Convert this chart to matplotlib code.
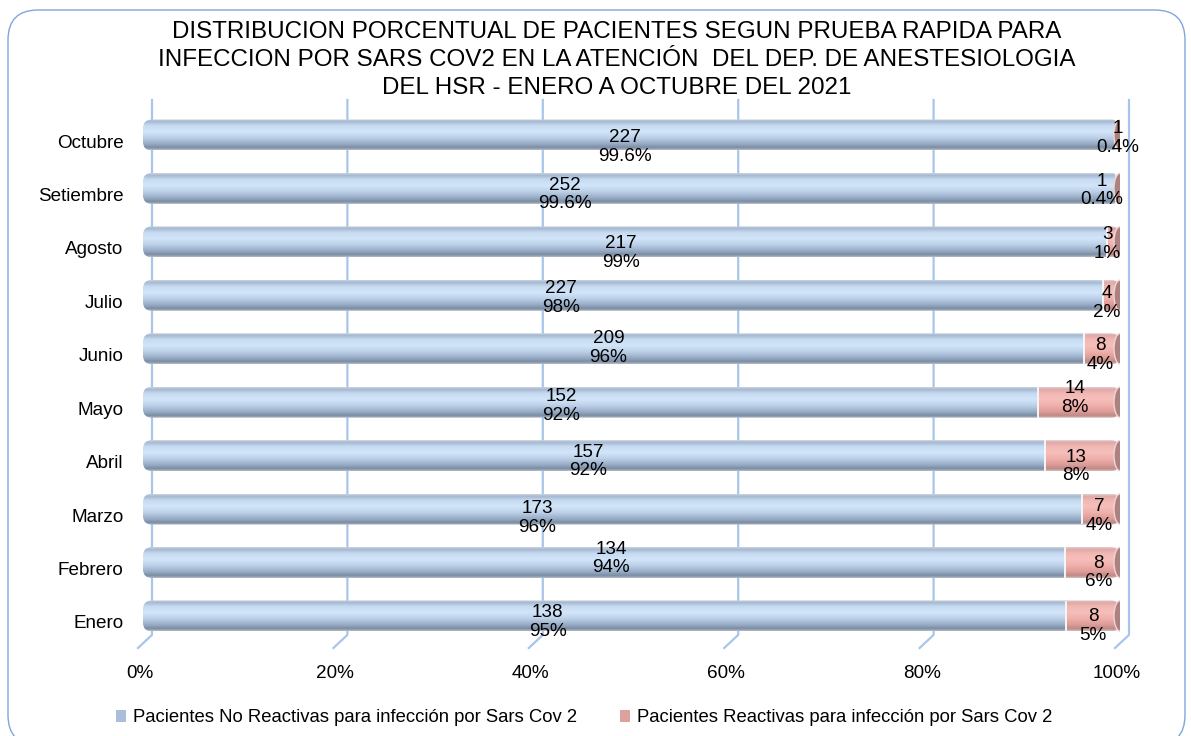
import numpy as np
import matplotlib
matplotlib.use("Agg")
import matplotlib.pyplot as plt
from matplotlib.colors import to_rgb
from matplotlib.patches import Ellipse, FancyBboxPatch, Patch
from matplotlib.transforms import ScaledTranslation

plt.rcParams["font.family"] = ["Liberation Sans", "DejaVu Sans"]

# data, bottom row first (Enero) up to Octubre
months = ["Enero", "Febrero", "Marzo", "Abril", "Mayo", "Junio",
          "Julio", "Agosto", "Setiembre", "Octubre"]
no_reactivas = [138, 134, 173, 157, 152, 209, 227, 217, 252, 227]
reactivas = [8, 8, 7, 13, 14, 8, 4, 3, 1, 1]
pct_no_reactivas = ["95%", "94%", "96%", "92%", "92%", "96%", "98%", "99%", "99.6%", "99.6%"]
pct_reactivas = ["5%", "6%", "4%", "8%", "8%", "4%", "2%", "1%", "0.4%", "0.4%"]
x_ticks = [0, 0.2, 0.4, 0.6, 0.8, 1.0]
x_tick_labels = ["0%", "20%", "40%", "60%", "80%", "100%"]

TITLE = ("DISTRIBUCION PORCENTUAL DE PACIENTES SEGUN PRUEBA RAPIDA PARA\n"
         "INFECCION POR SARS COV2 EN LA ATENCIÓN  DEL DEP. DE ANESTESIOLOGIA\n"
         "DEL HSR - ENERO A OCTUBRE DEL 2021")
LEGEND_LABELS = ["Pacientes No Reactivas para infección por Sars Cov 2",
                 "Pacientes Reactivas para infección por Sars Cov 2"]

# label nudges in pixels (dx, dy downwards), same order as months
blue_nudge = [(-57, 0), (7, -10), (-75, 3), (-6, 0), (-29, -2),
              (-5, -7), (-62, -3), (-4, 5), (-65, 0), (-4, 6)]
pink_nudge = [(0, 4), (6, 4), (-2, 1), (-7, 5), (-4, -10),
              (-2, 0), (-5, 2), (-6, -4), (-16, -4), (0, -3)]

BLUE_STOPS = [(0.0, "#c9d3df"), (0.07, "#a5b8d0"), (0.2, "#c6daf1"), (0.4, "#d2e5f9"),
              (0.6, "#bcd0e8"), (0.8, "#98acc6"), (0.93, "#7a8ca3"), (1.0, "#b3bcc6")]
PINK_STOPS = [(0.0, "#e6cccb"), (0.07, "#dcaaa8"), (0.2, "#f2b7b3"), (0.4, "#f6bfbb"),
              (0.6, "#f0afab"), (0.8, "#dc9c98"), (0.93, "#c08884"), (1.0, "#d4bab9")]

W, H, DPI = 1191, 736, 100
BAR_H = 0.58
FS = 13.6


def gradient(stops, n=64):
    pos = np.linspace(0, 1, n)
    xs = [s[0] for s in stops]
    cols = np.array([to_rgb(s[1]) for s in stops])
    rgb = np.stack([np.interp(pos, xs, cols[:, k]) for k in range(3)], axis=-1)
    return rgb[:, None, :]


def px_shift(fig, dx, dy):
    return ScaledTranslation(dx / DPI, -dy / DPI, fig.dpi_scale_trans)


fig = plt.figure(figsize=(W / DPI, H / DPI), dpi=DPI)
ax = fig.add_axes([143 / W, 1 - 648 / H, 977 / W, 548 / H])
ax.set_xlim(0, 1)
ax.set_ylim(-0.6, 9.655)
for side in ax.spines.values():
    side.set_visible(False)

# perspective grid lines
grid_tr = ax.transData + px_shift(fig, 9, 0)
for xv in x_ticks:
    ax.plot([xv, xv, xv - 14 / 977], [9.655, -0.355, -0.6], color="#a9c5ea",
            lw=1.6, transform=grid_tr, zorder=1, clip_on=False)

blue_img = gradient(BLUE_STOPS)
pink_img = gradient(PINK_STOPS)
aspect = (1 / 53.44) / (1 / 977)

for i, (n, r) in enumerate(zip(no_reactivas, reactivas)):
    frac = n / (n + r)
    y0, y1 = i - BAR_H / 2, i + BAR_H / 2
    clip = FancyBboxPatch((0, y0), 1, BAR_H, boxstyle="round,pad=0,rounding_size=0.009",
                          mutation_aspect=aspect, transform=ax.transData)
    for img, ext in ((blue_img, (0, frac, y0, y1)), (pink_img, (frac, 1, y0, y1))):
        im = ax.imshow(img, extent=ext, aspect="auto", interpolation="bilinear", zorder=3)
        im.set_clip_path(clip)
    ax.plot([frac, frac], [y0 + 0.02, y1 - 0.02], color="#f6f6f6", lw=1.4, zorder=4)
    ax.add_patch(Ellipse((1, i), 12 / 977, BAR_H * 0.98, facecolor="#ab8280",
                         edgecolor="#eed6d4", lw=1.0, zorder=4))

    bdx, bdy = blue_nudge[i]
    ax.text(frac / 2, i, f"{n}\n{pct_no_reactivas[i]}", ha="center", va="center",
            fontsize=FS, linespacing=1.13, zorder=5,
            transform=ax.transData + px_shift(fig, bdx, bdy + 6))
    pdx, pdy = pink_nudge[i]
    ax.text((1 + frac) / 2, i, f"{r}\n{pct_reactivas[i]}", ha="center", va="center",
            fontsize=FS, linespacing=1.13, zorder=5,
            transform=ax.transData + px_shift(fig, pdx, pdy + 6))

ax.set_yticks(range(len(months)), months)
ax.set_xticks(x_ticks, x_tick_labels)
ax.tick_params(axis="y", length=0, pad=14, labelsize=FS)
ax.tick_params(axis="x", length=0, pad=12, labelsize=FS)
for lab in ax.get_yticklabels():
    lab.set_transform(lab.get_transform() + px_shift(fig, 0, 6))
for lab in ax.get_xticklabels():
    lab.set_transform(lab.get_transform() + px_shift(fig, -3, 0))

fig.text(617 / W, 1 - 60 / H, TITLE, ha="center", va="center", fontsize=17.4, linespacing=1.36)

handles = [Patch(facecolor="#a8bedc", edgecolor="none"),
           Patch(facecolor="#e0a09d", edgecolor="none")]
fig.legend(handles, LEGEND_LABELS, loc="center", bbox_to_anchor=(584 / W, 1 - 718 / H),
           ncol=2, frameon=False, fontsize=13.3, handlelength=0.55, handleheight=0.55,
           handletextpad=0.4, columnspacing=2.3)

# rounded chart border
border = FancyBboxPatch((8 / DPI, (H - 745) / DPI), 1177 / DPI, 735 / DPI,
                        boxstyle="round,pad=0,rounding_size=0.3", transform=fig.dpi_scale_trans,
                        facecolor="none", edgecolor="#7fa6dc", lw=1.0, clip_on=False)
fig.patches.append(border)

fig.savefig("out.png", dpi=DPI)
